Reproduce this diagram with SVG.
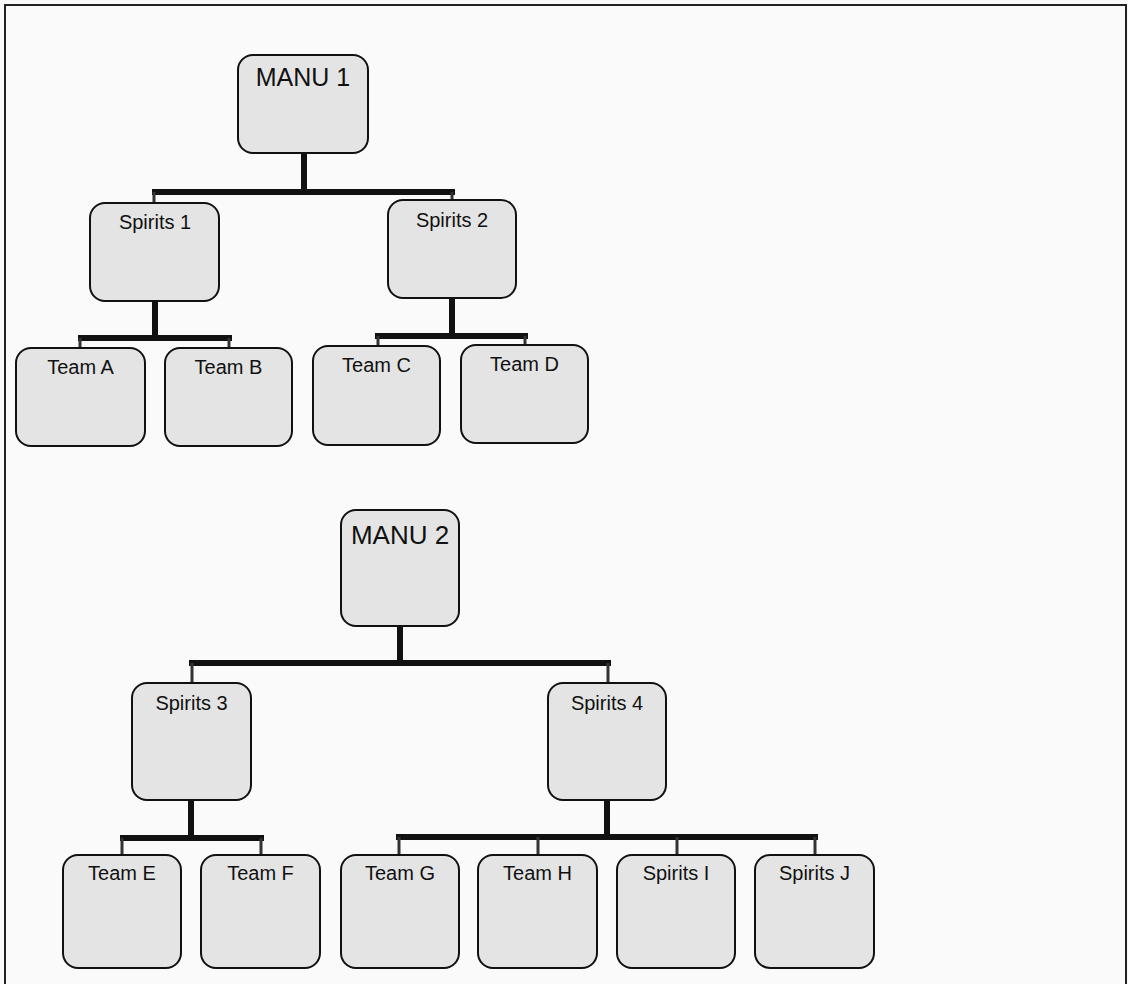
<svg xmlns="http://www.w3.org/2000/svg" width="1128" height="984" viewBox="0 0 1128 984">
<style>
.box{fill:#e4e4e4;stroke:#111;stroke-width:2}
.lbl{font-family:"Liberation Sans",Arial,sans-serif;font-size:20px;fill:#111;text-anchor:middle}
.big{font-size:25px}
.bar{stroke:#111;stroke-width:6;fill:none;stroke-linecap:butt}
.tick{stroke:#333;stroke-width:3;fill:none}
</style>
<rect width="1128" height="984" fill="#fafafa"/>
<path d="M5 984 V5 H1126 V984" fill="none" stroke="#222" stroke-width="2"/>
<g id="connectors">
<path class="bar" d="M304 153 V192 M152 192 H455 M155 301 V338 M78 338 H232 M452 298 V336 M375 336 H528"/>
<path class="tick" d="M154 192 V203 M452 192 V200 M80 338 V348 M229 338 V348 M378 336 V346 M525 336 V345"/>
<path class="bar" d="M400 626 V663 M189 663 H611 M191 800 V838 M120 838 H264 M607 800 V837 M396 837 H818"/>
<path class="tick" d="M192 663 V683 M608 663 V683 M122 838 V855 M261 838 V855 M399 837 V855 M538 837 V855 M677 837 V855 M815 837 V855"/>
</g>
<g id="manu1"><rect class="box" x="238" y="55" width="130" height="98" rx="15"/><text class="lbl big" x="303" y="86">MANU 1</text></g>
<g id="spirits1"><rect class="box" x="90" y="203" width="129" height="98" rx="15"/><text class="lbl" x="155" y="229">Spirits 1</text></g>
<g id="spirits2"><rect class="box" x="388" y="200" width="128" height="98" rx="15"/><text class="lbl" x="452" y="227">Spirits 2</text></g>
<g id="teamA"><rect class="box" x="16" y="348" width="129" height="98" rx="15"/><text class="lbl" x="80.5" y="374">Team A</text></g>
<g id="teamB"><rect class="box" x="165" y="348" width="127" height="98" rx="15"/><text class="lbl" x="228.5" y="374">Team B</text></g>
<g id="teamC"><rect class="box" x="313" y="346" width="127" height="99" rx="15"/><text class="lbl" x="376.5" y="372">Team C</text></g>
<g id="teamD"><rect class="box" x="461" y="345" width="127" height="98" rx="15"/><text class="lbl" x="524.5" y="371">Team D</text></g>
<g id="manu2"><rect class="box" x="341" y="510" width="118" height="116" rx="15"/><text class="lbl big" x="400" y="544" style="font-size:26px">MANU 2</text></g>
<g id="spirits3"><rect class="box" x="132" y="683" width="119" height="117" rx="15"/><text class="lbl" x="191.5" y="710">Spirits 3</text></g>
<g id="spirits4"><rect class="box" x="548" y="683" width="118" height="117" rx="15"/><text class="lbl" x="607" y="710">Spirits 4</text></g>
<g id="teamE"><rect class="box" x="63" y="855" width="118" height="113" rx="15"/><text class="lbl" x="122" y="880">Team E</text></g>
<g id="teamF"><rect class="box" x="201" y="855" width="119" height="113" rx="15"/><text class="lbl" x="260.5" y="880">Team F</text></g>
<g id="teamG"><rect class="box" x="341" y="855" width="118" height="113" rx="15"/><text class="lbl" x="400" y="880">Team G</text></g>
<g id="teamH"><rect class="box" x="478" y="855" width="119" height="113" rx="15"/><text class="lbl" x="537.5" y="880">Team H</text></g>
<g id="spiritsI"><rect class="box" x="617" y="855" width="118" height="113" rx="15"/><text class="lbl" x="676" y="880">Spirits I</text></g>
<g id="spiritsJ"><rect class="box" x="755" y="855" width="119" height="113" rx="15"/><text class="lbl" x="814.5" y="880">Spirits J</text></g>
</svg>
